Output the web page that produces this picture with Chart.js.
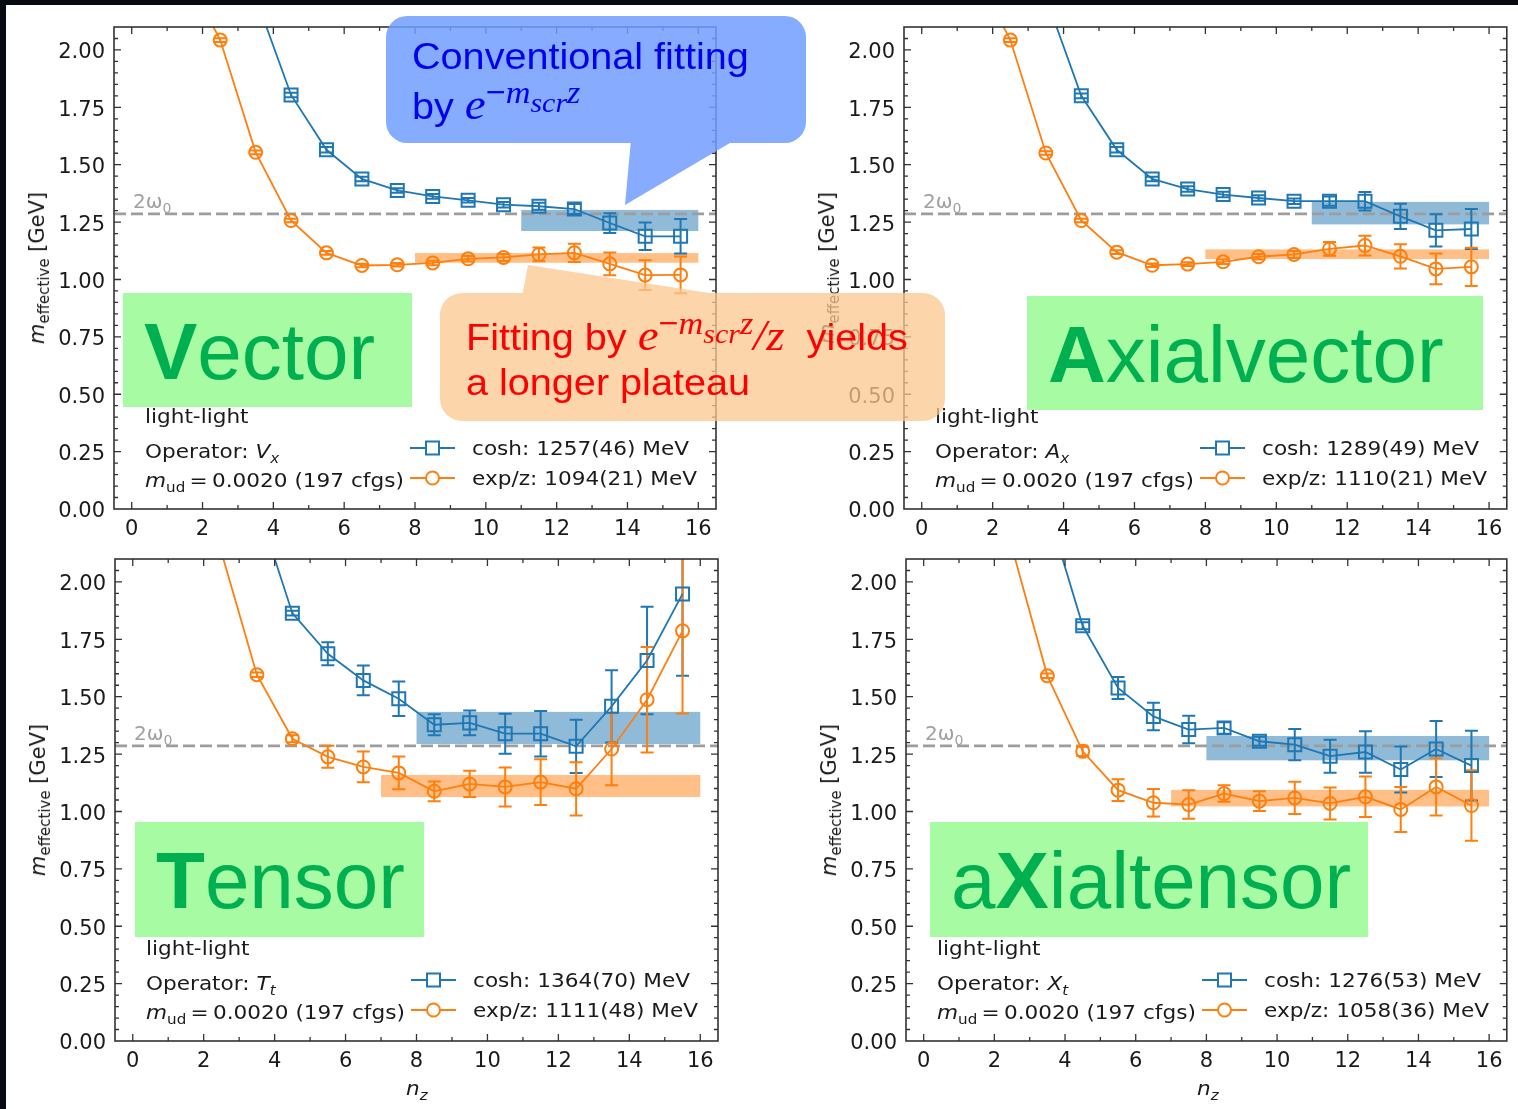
<!DOCTYPE html>
<html>
<head>
<meta charset="utf-8">
<script src="https://cdn.jsdelivr.net/npm/chart.js@4.4.1/dist/chart.umd.min.js"></script>
<style>
html,body{margin:0;padding:0;}
body{width:1518px;height:1109px;background:#060b12;position:relative;overflow:hidden;font-family:'DejaVu Sans',sans-serif;}
#paper{position:absolute;left:6px;top:5px;width:1512px;height:1104px;background:#fff;}
canvas{position:absolute;left:0;top:0;}
.txt{position:absolute;font-family:'DejaVu Sans';font-size:20px;line-height:24px;color:#1a1a1a;white-space:nowrap;transform:scaleX(1.08);transform-origin:0 50%;}
.s{position:relative;top:5px;font-size:14px;}
.eq{margin:0 4px;}
.ytitle{position:absolute;font-family:'DejaVu Sans';font-size:21px;line-height:24px;color:#1a1a1a;white-space:nowrap;transform:translate(-50%,-50%) rotate(-90deg);}
.ytitle .s{top:5px;font-size:15px;}
.gbox{position:absolute;background:#a6fba3;}
.big{position:absolute;left:21px;top:19px;font-family:'Liberation Sans',Arial,sans-serif;font-size:80px;line-height:80px;color:#00b050;white-space:nowrap;}
.big b{font-weight:bold;}
.omega{position:absolute;font-family:'DejaVu Sans';font-size:20px;line-height:24px;color:#a0a0a0;white-space:nowrap;}
.call{position:absolute;font-family:'Liberation Sans',Arial,sans-serif;font-size:37px;line-height:37px;white-space:nowrap;transform:scaleX(1.07);transform-origin:0 50%;}
.mi{font-family:'Liberation Serif','DejaVu Serif',serif;font-style:italic;}
.sup{position:relative;top:-16px;font-size:32px;}
.sub2{position:relative;top:9px;font-size:28px;}
svg{position:absolute;left:0;top:0;}
</style>
</head>
<body>
<div id="paper"></div>
<div id="stage"></div>
<script>
// ---------------- data ----------------
const nzCosh     = [3.5, 4.5, 5.5, 6.5, 7.5, 8.5, 9.5, 10.5, 11.5, 12.5, 13.5, 14.5, 15.5];
const nzExpLong  = [1.5, 2.5, 3.5, 4.5, 5.5, 6.5, 7.5, 8.5, 9.5, 10.5, 11.5, 12.5, 13.5, 14.5, 15.5];
const nzExpShort = [2.5, 3.5, 4.5, 5.5, 6.5, 7.5, 8.5, 9.5, 10.5, 11.5, 12.5, 13.5, 14.5, 15.5];

const vectorCosh    = [2.23, 1.804, 1.565, 1.438, 1.388, 1.362, 1.345, 1.326, 1.319, 1.307, 1.246, 1.188, 1.188];
const vectorCoshErr = [0.01, 0.01, 0.012, 0.01, 0.01, 0.01, 0.01, 0.012, 0.015, 0.022, 0.043, 0.06, 0.075];
const vectorExp     = [2.34, 2.043, 1.554, 1.257, 1.116, 1.061, 1.064, 1.072, 1.090, 1.096, 1.109, 1.116, 1.068, 1.019, 1.020];
const vectorExpErr  = [0.01, 0.008, 0.008, 0.008, 0.008, 0.008, 0.008, 0.01, 0.012, 0.015, 0.03, 0.04, 0.05, 0.065, 0.08];

const axialCosh    = [2.23, 1.800, 1.565, 1.438, 1.394, 1.370, 1.355, 1.341, 1.341, 1.341, 1.275, 1.214, 1.220];
const axialCoshErr = [0.01, 0.01, 0.012, 0.01, 0.012, 0.012, 0.012, 0.012, 0.02, 0.04, 0.055, 0.07, 0.087];
const axialExp     = [2.34, 2.043, 1.551, 1.257, 1.119, 1.062, 1.067, 1.077, 1.099, 1.109, 1.133, 1.148, 1.101, 1.046, 1.055];
const axialExpErr  = [0.01, 0.008, 0.008, 0.008, 0.008, 0.008, 0.008, 0.01, 0.012, 0.015, 0.03, 0.043, 0.053, 0.067, 0.083];

const tensorCosh    = [2.34, 1.864, 1.687, 1.571, 1.491, 1.378, 1.386, 1.339, 1.339, 1.284, 1.458, 1.658, 1.948];
const tensorCoshErr = [0.01, 0.01, 0.05, 0.065, 0.075, 0.046, 0.054, 0.087, 0.099, 0.116, 0.157, 0.234, 0.357];
const tensorExp     = [2.13, 1.596, 1.317, 1.238, 1.194, 1.168, 1.088, 1.120, 1.107, 1.128, 1.099, 1.272, 1.487, 1.787];
const tensorExpErr  = [0.01, 0.01, 0.015, 0.048, 0.067, 0.071, 0.043, 0.057, 0.085, 0.10, 0.116, 0.158, 0.23, 0.36];

const xtensorCosh    = [2.32, 1.809, 1.538, 1.414, 1.357, 1.364, 1.306, 1.291, 1.241, 1.259, 1.183, 1.272, 1.200];
const xtensorCoshErr = [0.01, 0.015, 0.048, 0.06, 0.06, 0.025, 0.02, 0.068, 0.072, 0.09, 0.1, 0.122, 0.152];
const xtensorExp     = [2.15, 1.591, 1.262, 1.093, 1.038, 1.030, 1.078, 1.045, 1.059, 1.035, 1.064, 1.009, 1.107, 1.026];
const xtensorExpErr  = [0.01, 0.01, 0.02, 0.047, 0.06, 0.062, 0.036, 0.043, 0.07, 0.07, 0.088, 0.098, 0.125, 0.154];

const panelNames   = ['<b>V</b>ector', '<b>A</b>xialvector', '<b>T</b>ensor', 'a<b>X</b>ialtensor'];
const opSymbols    = ['V', 'A', 'T', 'X'];
const opIndices    = ['x', 'x', 't', 't'];
const coshFit      = [1.257, 1.289, 1.364, 1.276];
const coshFitErr   = [0.046, 0.049, 0.070, 0.053];
const coshFitStart = [11, 11, 8, 8];
const expFit       = [1.094, 1.110, 1.111, 1.058];
const expFitErr    = [0.021, 0.021, 0.048, 0.036];
const expFitStart  = [8, 8, 7, 7];
const fitEnd       = 16;
const coshLabels   = ['cosh: 1257(46) MeV', 'cosh: 1289(49) MeV', 'cosh: 1364(70) MeV', 'cosh: 1276(53) MeV'];
const expLabels    = ['exp/z: 1094(21) MeV', 'exp/z: 1110(21) MeV', 'exp/z: 1111(48) MeV', 'exp/z: 1058(36) MeV'];
const twoOmega0    = 1.286;
const xTicks       = [0, 2, 4, 6, 8, 10, 12, 14, 16];
const xTickLabels  = ['0', '2', '4', '6', '8', '10', '12', '14', '16'];
const yTicks       = [0, 0.25, 0.5, 0.75, 1.0, 1.25, 1.5, 1.75, 2.0];
const yTickLabels  = ['0.00', '0.25', '0.50', '0.75', '1.00', '1.25', '1.50', '1.75', '2.00'];

// ---------------- layout ----------------
const W = 1518, H = 1109, YW = 80, XH = 40;
const BLUE = '#1f77b4', ORANGE = '#ff7f0e';
const areas = [
  {l:114, r:716, t:27, b:509},
  {l:904, r:1507, t:27, b:509},
  {l:115, r:718, t:559, b:1041},
  {l:906, r:1509, t:559, b:1041}
];
const series = [
  [vectorCosh, vectorCoshErr, nzExpLong, vectorExp, vectorExpErr],
  [axialCosh, axialCoshErr, nzExpLong, axialExp, axialExpErr],
  [tensorCosh, tensorCoshErr, nzExpShort, tensorExp, tensorExpErr],
  [xtensorCosh, xtensorCoshErr, nzExpShort, xtensorExp, xtensorExpErr]
];
const gboxes = [
  {x:123, y:293, w:289, h:114},
  {x:1027, y:296, w:456, h:114},
  {x:135, y:822, w:289, h:115},
  {x:930, y:822, w:438, h:115}
];

const decor = {
  id: 'decor',
  beforeDatasetsDraw(chart, args, o) {
    const {ctx, chartArea: a} = chart;
    const x = chart.scales.x, y = chart.scales.y;
    const k = o.idx;
    ctx.save();
    ctx.beginPath(); ctx.rect(a.left, a.top, a.right - a.left, a.bottom - a.top); ctx.clip();
    const band = (x0, c, e, col) => {
      const px0 = x.getPixelForValue(x0), px1 = x.getPixelForValue(fitEnd);
      const py0 = y.getPixelForValue(c + e), py1 = y.getPixelForValue(c - e);
      ctx.fillStyle = col; ctx.fillRect(px0, py0, px1 - px0, py1 - py0);
    };
    band(coshFitStart[k], coshFit[k], coshFitErr[k], 'rgba(31,119,180,0.5)');
    band(expFitStart[k], expFit[k], expFitErr[k], 'rgba(255,127,14,0.5)');
    const yy = y.getPixelForValue(twoOmega0);
    ctx.strokeStyle = '#9d9d9d'; ctx.lineWidth = 2.8; ctx.setLineDash([12, 5]);
    ctx.beginPath(); ctx.moveTo(a.left, yy); ctx.lineTo(a.right, yy); ctx.stroke();
    ctx.setLineDash([]);
    chart.data.datasets.forEach(ds => {
      ctx.strokeStyle = ds.borderColor; ctx.lineWidth = 2;
      ds.data.forEach((p, i) => {
        const e = ds.errors[i];
        const px = x.getPixelForValue(p.x);
        const t = y.getPixelForValue(p.y + e), b = y.getPixelForValue(p.y - e);
        ctx.beginPath();
        ctx.moveTo(px, t); ctx.lineTo(px, b);
        ctx.moveTo(px - 6.5, t); ctx.lineTo(px + 6.5, t);
        ctx.moveTo(px - 6.5, b); ctx.lineTo(px + 6.5, b);
        ctx.stroke();
      });
    });
    ctx.restore();
  },
  afterDraw(chart) {
    const {ctx, chartArea: a} = chart;
    const x = chart.scales.x, y = chart.scales.y;
    ctx.save();
    ctx.strokeStyle = '#333'; ctx.lineWidth = 1.3;
    ctx.beginPath();
    for (let v = 0; v <= 16; v++) {
      const px = x.getPixelForValue(v), L = (v % 2 === 0) ? 7 : 4;
      ctx.moveTo(px, a.bottom); ctx.lineTo(px, a.bottom - L);
      ctx.moveTo(px, a.top); ctx.lineTo(px, a.top + L);
    }
    for (let i = 1; i < 42; i++) {
      const py = y.getPixelForValue(i * 0.05), L = (i % 5 === 0) ? 7 : 4;
      ctx.moveTo(a.left, py); ctx.lineTo(a.left + L, py);
      ctx.moveTo(a.right, py); ctx.lineTo(a.right - L, py);
    }
    ctx.stroke();
    ctx.lineWidth = 1.6;
    ctx.strokeRect(a.left, a.top, a.right - a.left, a.bottom - a.top);
    ctx.restore();
  }
};

const stage = document.getElementById('stage');

function makeChart(k) {
  const a = areas[k];
  const [cY, cE, eX, eY, eE] = series[k];
  const cv = document.createElement('canvas');
  cv.width = W; cv.height = H;
  stage.appendChild(cv);
  const tickFont = {family: 'DejaVu Sans', size: 21};
  new Chart(cv, {
    type: 'scatter',
    data: {
      datasets: [
        {label: 'cosh', data: nzCosh.map((v, i) => ({x: v, y: cY[i]})), errors: cE,
         showLine: true, borderColor: BLUE, borderWidth: 1.8, pointStyle: 'rect', pointRadius: 9.2,
         pointBorderWidth: 2, pointBorderColor: BLUE, pointBackgroundColor: 'rgba(0,0,0,0)', clip: 0},
        {label: 'exp/z', data: eX.map((v, i) => ({x: v, y: eY[i]})), errors: eE,
         showLine: true, borderColor: ORANGE, borderWidth: 1.8, pointStyle: 'circle', pointRadius: 6.5,
         pointBorderWidth: 2, pointBorderColor: ORANGE, pointBackgroundColor: 'rgba(0,0,0,0)', clip: 0}
      ]
    },
    options: {
      responsive: false, animation: false, events: [],
      layout: {padding: {left: a.l - YW, right: W - a.r, top: a.t, bottom: H - a.b - XH}},
      plugins: {legend: {display: false}, tooltip: {enabled: false}, decor: {idx: k}},
      scales: {
        x: {type: 'linear', min: -0.5, max: 16.5,
            grid: {display: false, drawTicks: false, tickLength: 0}, border: {display: false},
            afterBuildTicks: s => { s.ticks = xTicks.map(v => ({value: v})); },
            afterFit: s => { s.height = XH; },
            ticks: {padding: 8, font: tickFont, color: '#1a1a1a', maxRotation: 0, autoSkip: false,
                    callback: (v, i) => xTickLabels[i]}},
        y: {type: 'linear', min: 0, max: 2.1,
            grid: {display: false, drawTicks: false, tickLength: 0}, border: {display: false},
            afterBuildTicks: s => { s.ticks = yTicks.map(v => ({value: v})); },
            afterFit: s => { s.width = YW; },
            ticks: {padding: 9, labelOffset: 3, font: tickFont, color: '#1a1a1a', autoSkip: false,
                    callback: (v, i) => yTickLabels[i]}}
      }
    },
    plugins: [decor]
  });
}
for (let k = 0; k < 4; k++) makeChart(k);

// ---------------- overlays ----------------
let html = '';
let svg = '<svg width="1518" height="1109" xmlns="http://www.w3.org/2000/svg">';
for (let k = 0; k < 4; k++) {
  const a = areas[k], g = gboxes[k];
  const L = a.l, T = a.t;
  const line = (y, inner, x) => `<div class="txt" style="left:${x}px;top:${y - 18.9}px">${inner}</div>`;
  html += line(T + 396, 'light-light', L + 31);
  html += line(T + 431, `Operator: <i>${opSymbols[k]}</i><span class="s"><i>${opIndices[k]}</i></span>`, L + 31);
  html += line(T + 460, `<i>m</i><span class="s">ud</span><span class="eq">=</span>0.0020 (197 cfgs)`, L + 31);
  html += line(T + 428, coshLabels[k], L + 358);
  html += line(T + 458, expLabels[k], L + 358);
  // legend handles
  const y1 = T + 421, y2 = T + 451, x0 = L + 296, x1 = L + 341, xm = (x0 + x1) / 2;
  svg += `<line x1="${x0}" y1="${y1}" x2="${x1}" y2="${y1}" stroke="${BLUE}" stroke-width="1.8"/>`;
  svg += `<rect x="${xm - 6.5}" y="${y1 - 6.5}" width="13" height="13" fill="#fff" stroke="${BLUE}" stroke-width="2"/>`;
  svg += `<line x1="${x0}" y1="${y2}" x2="${x1}" y2="${y2}" stroke="${ORANGE}" stroke-width="1.8"/>`;
  svg += `<circle cx="${xm}" cy="${y2}" r="6.5" fill="#fff" stroke="${ORANGE}" stroke-width="2"/>`;
  // y title
  html += `<div class="ytitle" style="left:${L - 76}px;top:${(a.t + a.b) / 2}px"><i>m</i><span class="s">effective</span> [GeV]</div>`;
  // 2 omega0
  const yOm = a.b - (a.b - a.t) * twoOmega0 / 2.1;
  html += `<div class="omega" style="left:${L + 19}px;top:${yOm - 6 - 18.9}px">2ω<span class="s">0</span></div>`;
  // green box
  html += `<div class="gbox" style="left:${g.x}px;top:${g.y}px;width:${g.w}px;height:${g.h}px"><div class="big">${panelNames[k]}</div></div>`;
  if (k >= 2) {
    html += `<div class="txt" style="left:${(a.l + a.r) / 2 - 11}px;top:${1088 - 12}px"><i>n</i><span class="s"><i>z</i></span></div>`;
  }
}
// callouts
svg += '<g opacity="0.85" fill="rgb(113,157,255)"><rect x="386" y="16" width="420" height="127" rx="21" ry="21"/><polygon points="631,140 625,205 735,140"/></g>';
svg += '<g opacity="0.75" fill="rgb(251,199,143)"><rect x="440" y="293" width="505" height="128" rx="22" ry="22"/><polygon points="522,297 528,265 735,297"/></g>';
svg += '</svg>';

const mathE = '<span class="mi" style="font-size:44px">e</span><span class="sup">−<span class="mi">m</span><span class="sub2 mi">scr</span><span class="mi">z</span></span>';
html += svg;
html += `<div class="call" style="left:412px;top:${69 - 31.3}px;color:#0000f0">Conventional fitting</div>`;
html += `<div class="call" style="left:412px;top:${117 - 31.3}px;color:#0000f0">by ${mathE}</div>`;
html += `<div class="call" style="left:466px;top:${348 - 31.3}px;color:#ff0000">Fitting by ${mathE}<span class="mi" style="font-size:44px">/z</span>&nbsp; yields</div>`;
html += `<div class="call" style="left:466px;top:${395 - 31.3}px;color:#ff0000">a longer plateau</div>`;

const ov = document.createElement('div');
ov.innerHTML = html;
document.body.appendChild(ov);
</script>
</body>
</html>
